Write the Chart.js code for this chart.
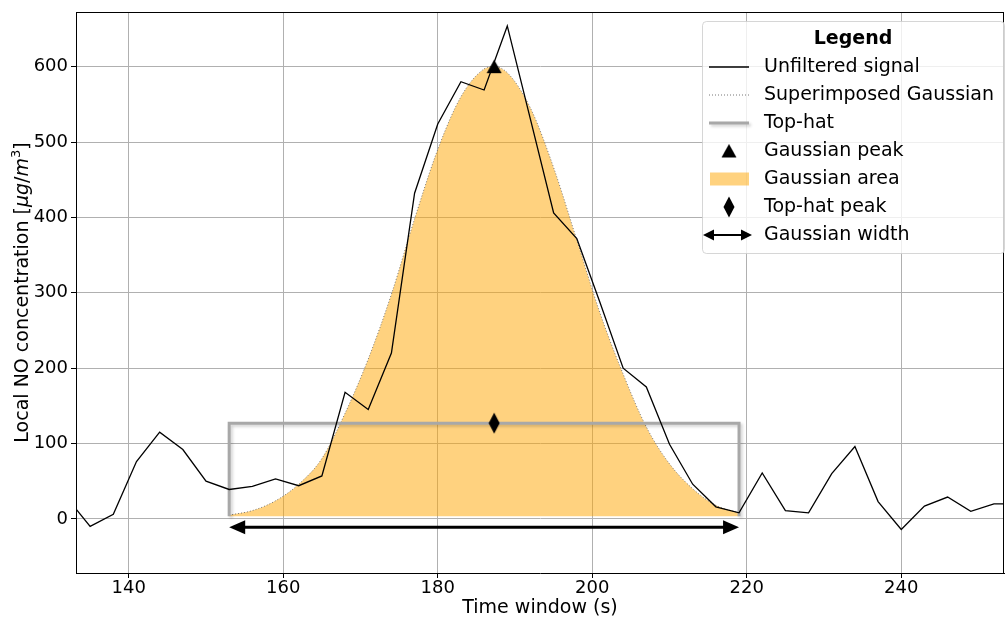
<!DOCTYPE html>
<html>
<head>
<meta charset="utf-8">
<script src="https://cdn.jsdelivr.net/npm/chart.js@4.4.1/dist/chart.umd.min.js"></script>
<style>
  html, body { margin: 0; padding: 0; background: #fff; }
</style>
</head>
<body>
<canvas id="chart" width="1005" height="617"></canvas>
<script>
// data
const signalTimes = [132, 135, 138, 141, 144, 147, 150, 153, 156, 159, 162, 165, 168, 171, 174, 177, 180, 183, 186, 189, 192,
  195, 198, 201, 204, 207, 210, 213, 216, 219, 222, 225, 228, 231, 234, 237, 240, 243, 246, 249, 252, 255];
const signalValues = [28, -10, 6, 76, 115, 92, 50, 39, 43, 53, 44, 57, 168, 145, 220, 432, 524, 580, 569, 654, 530,
  406, 372, 287, 200, 175, 99, 46, 16, 8, 61, 11, 8, 60, 96, 23, -14, 17, 29, 10, 20, 20];

const gaussTimes = [153, 156, 159, 162, 165, 168, 171, 174, 177, 180, 183, 186, 187.3, 189, 192, 195, 198, 201, 204, 207, 210, 213, 216, 219];
const gaussValues = [5, 11, 24, 46, 80, 140, 212, 298, 398, 490, 560, 597, 600, 592, 545, 466, 370, 273, 192, 122, 73, 40, 18, 8];
const gaussBase = 3.5;

const tophatTimes = [153, 153, 219, 219];
const tophatValues = [3.5, 127, 127, 3.5];

const gaussPeak = { t: 187.3, v: 600 };
const tophatPeak = { t: 187.3, v: 127 };
const widthTimes = [153, 219];
const widthLevel = -11;

const xTicks = [140, 160, 180, 200, 220, 240];
const yTicks = [0, 100, 200, 300, 400, 500, 600];

const legendLabels = ['Unfiltered signal', 'Superimposed Gaussian', 'Top-hat', 'Gaussian peak',
  'Gaussian area', 'Top-hat peak', 'Gaussian width'];

const FONT = '"DejaVu Sans", sans-serif';
const ORANGE = 'rgba(255, 165, 0, 0.5)';
const HAT_GREY = '#a8a8a8';

function pts(xs, ys) {
  return xs.map((x, i) => ({ x: x, y: ys[i] }));
}

function makeMarker(w, h, draw) {
  const c = document.createElement('canvas');
  c.width = w; c.height = h;
  const g = c.getContext('2d');
  g.fillStyle = '#000';
  draw(g);
  return c;
}

const triangleImg = makeMarker(16, 15, g => {
  g.beginPath(); g.moveTo(8, 0.5); g.lineTo(15.5, 14); g.lineTo(0.5, 14); g.closePath(); g.fill();
});
const diamondImg = makeMarker(12, 22, g => {
  g.beginPath(); g.moveTo(6, 0.5); g.lineTo(11.5, 11); g.lineTo(6, 21.5); g.lineTo(0.5, 11); g.closePath(); g.fill();
});

function arrow(ctx, x1, x2, y, head, half, lw) {
  ctx.save();
  ctx.strokeStyle = '#000';
  ctx.fillStyle = '#000';
  ctx.lineWidth = lw;
  ctx.beginPath(); ctx.moveTo(x1 + head - 1, y); ctx.lineTo(x2 - head + 1, y); ctx.stroke();
  ctx.beginPath(); ctx.moveTo(x1, y); ctx.lineTo(x1 + head, y - half); ctx.lineTo(x1 + head, y + half); ctx.closePath(); ctx.fill();
  ctx.beginPath(); ctx.moveTo(x2, y); ctx.lineTo(x2 - head, y - half); ctx.lineTo(x2 - head, y + half); ctx.closePath(); ctx.fill();
  ctx.restore();
}

function hatShadow(ctx) {
  ctx.shadowColor = 'rgba(0,0,0,0.18)';
  ctx.shadowBlur = 3;
  ctx.shadowOffsetX = 2;
  ctx.shadowOffsetY = 2;
}

const extras = {
  id: 'extras',
  beforeDatasetDraw(chart, args) {
    if (chart.data.datasets[args.index].label === 'Top-hat') {
      chart.ctx.save();
      hatShadow(chart.ctx);
    }
  },
  afterDatasetDraw(chart, args) {
    if (chart.data.datasets[args.index].label === 'Top-hat') chart.ctx.restore();
  },
  afterDatasetsDraw(chart) {
    const { ctx, scales: { x, y } } = chart;
    // Gaussian width arrow
    arrow(ctx, x.getPixelForValue(widthTimes[0]), x.getPixelForValue(widthTimes[1]),
      y.getPixelForValue(widthLevel), 16, 7, 3);
  },
  afterDraw(chart) {
    const { ctx, chartArea: a } = chart;
    // top and right spines
    ctx.save();
    ctx.strokeStyle = '#000';
    ctx.lineWidth = 1;
    ctx.beginPath();
    ctx.moveTo(a.left, a.top + 0.5); ctx.lineTo(a.right, a.top + 0.5);
    ctx.moveTo(a.right - 0.5, a.top); ctx.lineTo(a.right - 0.5, a.bottom);
    ctx.stroke();

    // axis titles
    ctx.fillStyle = '#000';
    ctx.textBaseline = 'alphabetic';
    ctx.font = '19px ' + FONT;
    ctx.textAlign = 'center';
    ctx.fillText('Time window (s)', (a.left + a.right) / 2, 613);

    const parts = [
      { t: 'Local NO concentration [', f: '19px ' + FONT, dy: 0 },
      { t: 'μg', f: 'italic 19px ' + FONT, dy: 0 },
      { t: '/', f: '19px ' + FONT, dy: 0 },
      { t: 'm', f: 'italic 19px ' + FONT, dy: 0 },
      { t: '3', f: '13px ' + FONT, dy: -8 },
      { t: ']', f: '19px ' + FONT, dy: 0 }
    ];
    let total = 0;
    parts.forEach(p => { ctx.font = p.f; p.w = ctx.measureText(p.t).width; total += p.w; });
    ctx.translate(28, (a.top + a.bottom) / 2);
    ctx.rotate(-Math.PI / 2);
    ctx.textAlign = 'left';
    let cx = -total / 2;
    parts.forEach(p => { ctx.font = p.f; ctx.fillText(p.t, cx, p.dy); cx += p.w; });
    ctx.restore();

    // legend box
    ctx.save();
    const bx = 702, by = 21, bw = 302, bh = 232;
    ctx.beginPath();
    ctx.roundRect(bx + 0.5, by + 0.5, bw, bh, 4);
    ctx.fillStyle = 'rgba(255,255,255,0.8)';
    ctx.fill();
    ctx.strokeStyle = 'rgba(204,204,204,0.8)';
    ctx.lineWidth = 1;
    ctx.stroke();

    ctx.fillStyle = '#000';
    ctx.textBaseline = 'middle';
    ctx.textAlign = 'center';
    ctx.font = 'bold 19px ' + FONT;
    ctx.fillText('Legend', 853, 39);

    ctx.textAlign = 'left';
    ctx.font = '19px ' + FONT;
    const rowY = [67, 95, 123, 151, 179, 207, 235];
    legendLabels.forEach((lab, i) => ctx.fillText(lab, 764, rowY[i]));

    const hx1 = 709, hx2 = 749, hc = 729;
    // unfiltered signal
    ctx.strokeStyle = '#000'; ctx.lineWidth = 1.3;
    ctx.beginPath(); ctx.moveTo(hx1, rowY[0]); ctx.lineTo(hx2, rowY[0]); ctx.stroke();
    // gaussian dotted
    ctx.strokeStyle = '#777'; ctx.lineWidth = 1; ctx.setLineDash([1, 2]);
    ctx.beginPath(); ctx.moveTo(hx1, rowY[1]); ctx.lineTo(hx2, rowY[1]); ctx.stroke();
    ctx.setLineDash([]);
    // top-hat with shadow
    ctx.save();
    hatShadow(ctx);
    ctx.strokeStyle = HAT_GREY; ctx.lineWidth = 3;
    ctx.beginPath(); ctx.moveTo(hx1, rowY[2]); ctx.lineTo(hx2, rowY[2]); ctx.stroke();
    ctx.restore();
    // markers
    ctx.drawImage(triangleImg, hc - 8, rowY[3] - 7.5);
    ctx.fillStyle = ORANGE;
    ctx.fillRect(hx1 + 1, rowY[4] - 6.5, 39, 13);
    ctx.drawImage(diamondImg, hc - 6, rowY[5] - 11);
    arrow(ctx, 703, 752, rowY[6], 11, 5.5, 2);
    ctx.restore();
  }
};

new Chart(document.getElementById('chart'), {
  type: 'scatter',
  data: {
    datasets: [
      {
        label: 'Unfiltered signal',
        data: pts(signalTimes, signalValues),
        showLine: true,
        borderColor: '#000',
        borderWidth: 1.3,
        pointRadius: 0,
        order: 1
      },
      {
        label: 'Top-hat',
        data: pts(tophatTimes, tophatValues),
        showLine: true,
        borderColor: HAT_GREY,
        borderWidth: 3,
        borderJoinStyle: 'miter',
        pointRadius: 0,
        order: 3
      },
      {
        label: 'Superimposed Gaussian',
        data: pts(gaussTimes, gaussValues),
        showLine: true,
        borderColor: '#777',
        borderWidth: 1,
        borderDash: [1, 2],
        cubicInterpolationMode: 'monotone',
        backgroundColor: ORANGE,
        fill: { value: gaussBase },
        pointRadius: 0,
        order: 5
      },
      {
        label: 'Gaussian peak',
        data: [{ x: gaussPeak.t, y: gaussPeak.v }],
        pointStyle: triangleImg,
        order: 0
      },
      {
        label: 'Top-hat peak',
        data: [{ x: tophatPeak.t, y: tophatPeak.v }],
        pointStyle: diamondImg,
        order: 0
      }
    ]
  },
  options: {
    responsive: false,
    animation: false,
    devicePixelRatio: 1,
    layout: { autoPadding: false, padding: { top: 12, right: 1, left: 0, bottom: 0 } },
    plugins: { legend: { display: false }, tooltip: { enabled: false } },
    scales: {
      x: {
        type: 'linear',
        min: 133.17,
        max: 253.3,
        afterBuildTicks: s => { s.ticks = xTicks.map(v => ({ value: v })); },
        afterFit: s => { s.height = 44; s.paddingLeft = 0; s.paddingRight = 0; },
        grid: { color: '#b0b0b0', lineWidth: 1, tickLength: 5, tickColor: '#000' },
        border: { color: '#000', width: 1 },
        ticks: { color: '#000', font: { family: FONT, size: 18 }, padding: 0, maxRotation: 0 }
      },
      y: {
        type: 'linear',
        min: -71.8,
        max: 672.5,
        afterBuildTicks: s => { s.ticks = yTicks.map(v => ({ value: v })); },
        afterFit: s => { s.width = 76; s.paddingTop = 0; s.paddingBottom = 0; },
        grid: { color: '#b0b0b0', lineWidth: 1, tickLength: 5, tickColor: '#000' },
        border: { color: '#000', width: 1 },
        ticks: { color: '#000', font: { family: FONT, size: 18 }, padding: 3 }
      }
    }
  },
  plugins: [extras]
});
</script>
</body>
</html>
